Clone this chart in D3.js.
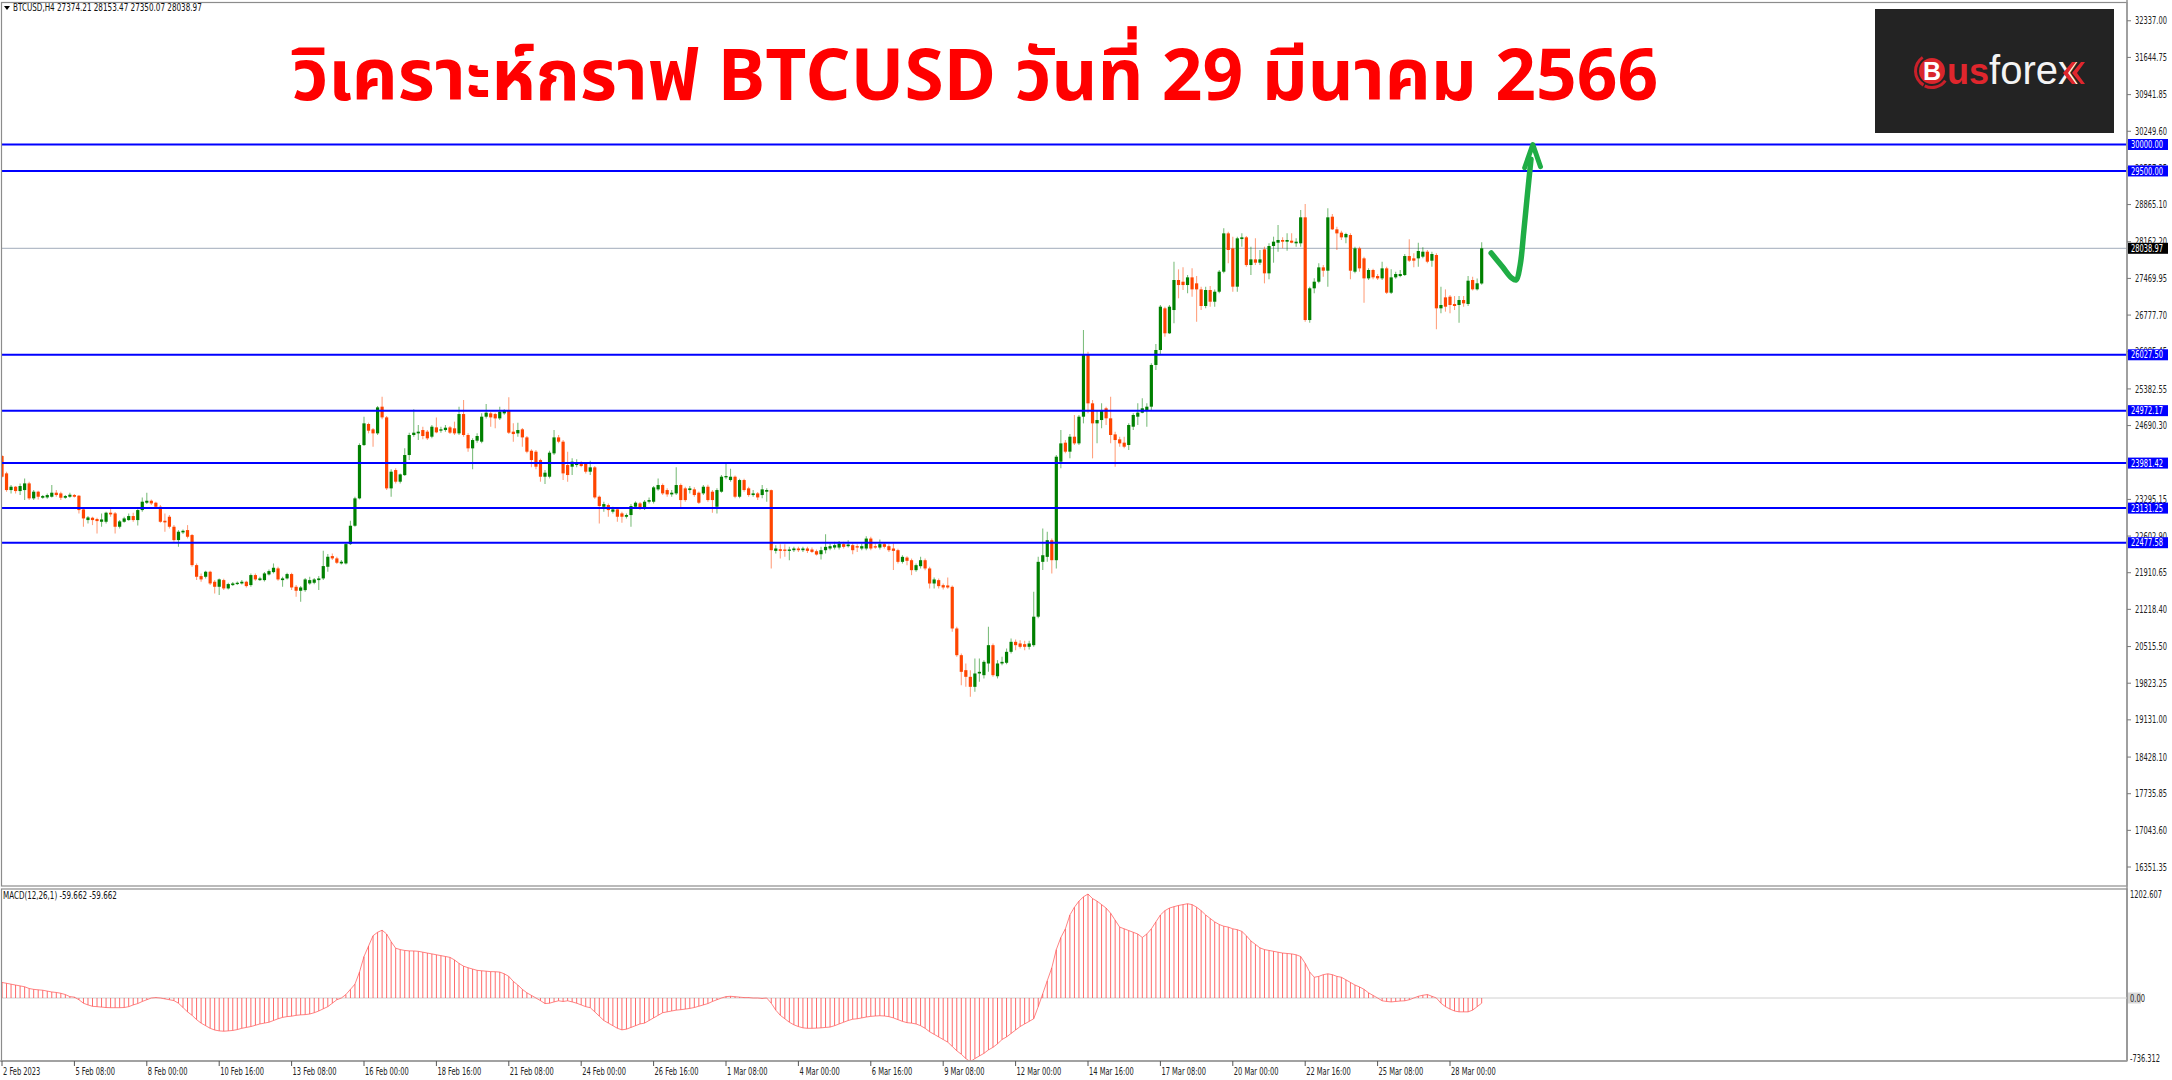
<!DOCTYPE html>
<html><head><meta charset="utf-8">
<script src="https://cdn.jsdelivr.net/npm/d3@7"></script>
<style>
html,body{margin:0;padding:0;background:#fff;overflow:hidden}
text{font-family:"DejaVu Sans Condensed","Liberation Sans",sans-serif}
</style>
</head><body>
<svg id="c" width="2172" height="1080"></svg>
<script>
// ---------- DATA ----------
const headerText = "BTCUSD,H4  27374.21 28153.47 27350.07 28038.97";
const titleText = "วิเคราะห์กราฟ BTCUSD วันที่ 29 มีนาคม 2566";
const macdLabel = "MACD(12,26,1) -59.662 -59.662";

const opens = [24115,23787,23472,23535,23453,23472,23598,23315,23441,23327,
23333,23346,23422,23409,23327,23346,23378,23365,23107,22905,
22949,22924,22873,22873,23044,23031,22779,22873,22905,22981,
22905,23094,23233,23270,23233,23157,22892,22968,22779,22527,
22672,22716,22622,22054,21847,21834,21929,21740,21645,21771,
21614,21677,21696,21708,21740,21677,21866,21771,21771,21878,
21922,21992,21771,21803,21885,21645,21570,21582,21708,21721,
21771,21803,22023,22225,22181,22086,22086,22451,22798,23315,
24322,24720,24619,24543,25047,24845,23504,23850,23630,23755,
24134,24512,24543,24606,24575,24480,24656,24594,24606,24656,
24638,24543,24908,24512,24260,24405,24386,24858,24921,24908,
24826,24921,24984,24575,24543,24619,24467,24215,24197,24039,
23724,23724,24165,24467,24386,23945,23913,23945,23989,23976,
23819,23901,23346,23157,23189,23063,23107,23031,22968,23000,
23157,23220,23126,23252,23252,23485,23567,23472,23390,23409,
23567,23504,23472,23485,23422,23409,23535,23441,23157,23441,
23712,23661,23724,23346,23661,23504,23378,23409,23378,23441,
23470,22323,22355,22349,22323,22336,22368,22336,22368,22349,
22317,22260,22336,22368,22386,22386,22450,22412,22431,22412,
22368,22368,22556,22412,22386,22450,22412,22368,22336,22116,
22197,22147,21959,22034,22147,21991,21707,21770,21676,21670,
21644,20857,20353,20070,19944,19755,20007,19975,20196,20542,
19955,20196,20209,20416,20605,20574,20561,20511,20542,21080,
22116,22210,22525,22147,24008,24367,24197,24480,24354,24858,
26023,25110,24732,24795,25016,24827,24524,24430,24367,24323,
24669,24858,24934,24984,25047,25835,26118,26905,26433,26873,
27440,27408,27345,27490,27377,27263,26949,27251,27030,27219,
27597,28321,28038,27314,28214,28246,27723,27830,27767,28019,
27566,28082,28145,28196,28164,28183,28133,28133,28624,26684,
27283,27408,27679,27616,28636,28397,28334,28246,28290,27597,
28038,27849,27471,27629,27515,27471,27660,27200,27490,27515,
27534,27893,27849,27849,27881,27975,27805,27912,26905,27112,
27125,26987,26968,27062,26987,27440,27264,27374.21];

const highs = [24133,23818,23566,23548,23598,23692,23630,23472,23459,23378,
23409,23566,23472,23441,23378,23422,23396,23378,23126,22981,
22968,22949,23031,23063,23145,23056,22905,22968,23031,23044,
23126,23333,23422,23296,23252,23189,23031,23000,22810,22716,
22729,22810,22640,22086,21897,21947,21947,21771,21803,21796,
21721,21733,21746,21771,21759,21897,21897,21834,21922,21973,
22086,22023,21834,21910,21910,21677,21658,21809,21834,21809,
21847,22326,22262,22275,22212,22149,22477,22893,23346,24354,
24858,24745,24644,25060,25236,24871,23863,23882,23787,24260,
24556,25000,24700,24669,24606,24700,24845,24669,24700,24682,
24764,25047,25173,24543,24449,24543,24921,25097,24946,24934,
25047,24997,25223,24732,24745,24644,24493,24241,24228,24064,
23850,24215,24606,24512,24417,24197,24071,24052,24014,24001,
24027,23926,23371,23252,23220,23157,23132,23063,23031,23207,
23258,23245,23283,23333,23548,23692,23598,23504,23472,23901,
23598,23535,23548,23523,23447,23566,23573,23472,23504,23756,
23964,23875,23749,23686,23686,23535,23472,23434,23567,23504,
23483,22431,22450,22450,22399,22399,22399,22399,22399,22386,
22349,22399,22638,22462,22494,22512,22494,22525,22475,22450,
22462,22600,22588,22462,22538,22475,22450,22462,22361,22241,
22223,22178,22084,22210,22178,22022,21821,21802,21707,21821,
21670,20888,20385,20196,20070,20291,20291,20259,20888,20574,
20259,20322,20479,20668,20649,20636,20624,20624,21553,22210,
22745,22683,22556,24134,24606,24417,24531,24890,24890,26496,
26086,25173,24984,25110,25047,25236,24575,24480,24480,24732,
24921,25110,25204,25110,25866,26231,26968,26936,26968,27786,
27641,27679,27534,27660,27515,27314,27314,27326,27263,27629,
28416,28353,28259,28259,28321,28271,28070,28227,28007,28070,
28133,28259,28479,28246,28321,28321,28227,28762,28875,27314,
27471,27755,27723,28794,28687,28448,28372,28334,28321,28070,
28070,27881,27660,27654,27553,27786,27692,27641,27597,27629,
27931,28208,27944,28145,28057,28007,27975,27944,27314,27263,
27157,27137,27137,27137,27515,27503,27470,28153.47];

const lows = [23711,23440,23409,23409,23378,23283,23283,23283,23296,23308,
23308,23333,23346,23283,23308,23327,23333,23031,22779,22842,
22810,22653,22779,22842,22968,22653,22748,22855,22892,22873,
22804,23063,23207,23189,23126,22855,22685,22748,22496,22401,
22640,22559,22023,21771,21740,21803,21677,21519,21488,21582,
21595,21658,21677,21689,21632,21645,21759,21752,21746,21859,
21897,21759,21645,21784,21582,21456,21362,21551,21683,21695,
21582,21771,21929,22149,22073,22067,22067,22432,22779,23296,
24304,24543,24291,24512,24808,23472,23346,23598,23598,23737,
24039,24480,24417,24430,24417,24449,24543,24556,24575,24530,
24512,24512,24480,24197,23863,24367,24354,24826,24669,24638,
24795,24896,24530,24386,24480,24291,24165,23901,23863,23630,
23586,23692,24134,24354,23661,23630,23756,23901,23901,23787,
23756,23308,22842,23063,22968,23031,22873,22855,22936,22779,
23126,23094,23094,23220,23220,23460,23378,23346,23346,23378,
23126,23252,23409,23346,23207,23378,23252,23044,23031,23422,
23674,23630,23315,23315,23441,23346,23346,23283,23315,23252,
21990,22273,22178,22210,22147,22304,22304,22304,22285,22285,
22235,22160,22273,22336,22349,22349,22368,22386,22260,22304,
22336,22336,22336,22361,22349,22368,22304,21961,22084,22084,
22053,21865,21928,21991,21959,21613,21613,21613,21594,21607,
20794,20322,19787,19755,19566,19661,19850,19913,20038,19944,
19913,20164,20183,20385,20448,20479,20448,20461,20511,21049,
21961,22116,21896,21991,23882,24165,24071,24323,24323,24732,
24921,24071,24354,24638,24701,24354,23913,24291,24260,24228,
24606,24701,24921,24669,24984,25740,26023,26370,26420,26621,
27094,27251,27188,27125,26653,26873,26905,26936,26936,27188,
27566,27755,27219,27219,28070,27692,27534,27723,27723,27377,
27452,27767,27975,28038,27994,28133,28070,28070,26653,26634,
27188,27377,27503,27314,28385,28007,28196,28133,27452,27566,
27597,27012,27440,27452,27440,27440,27175,27175,27465,27490,
27515,27780,27679,27692,27849,27755,27692,26508,26810,26842,
26810,26873,26634,26936,26949,27240,27240,27350.07];

const closes = [23724,23472,23535,23453,23548,23598,23315,23441,23346,23359,
23378,23422,23378,23327,23359,23384,23346,23094,22936,22955,
22905,22886,22917,23044,23012,22779,22880,22936,22981,22905,
23094,23252,23270,23220,23157,22873,22861,22779,22527,22685,
22703,22590,22054,21834,21784,21929,21708,21645,21784,21614,
21696,21708,21721,21740,21658,21866,21784,21803,21897,21941,
22004,21784,21803,21885,21632,21570,21632,21784,21771,21784,
21803,22036,22212,22181,22099,22118,22451,22798,23315,24322,
24732,24593,24543,25034,24845,23504,23819,23630,23768,24134,
24512,24556,24575,24493,24449,24669,24562,24619,24650,24556,
24543,24908,24512,24260,24417,24493,24858,24934,24845,24826,
24952,24971,24556,24530,24606,24467,24197,24039,23913,23724,
23800,24178,24467,24386,23787,23756,24008,23976,23926,23819,
23901,23333,23170,23207,23094,23107,22968,22968,23000,23170,
23233,23126,23252,23283,23523,23567,23409,23390,23422,23567,
23283,23283,23504,23378,23233,23535,23283,23283,23472,23724,
23737,23724,23346,23661,23472,23378,23409,23333,23485,23473,
22336,22368,22323,22323,22349,22368,22336,22368,22323,22304,
22254,22336,22399,22412,22431,22462,22399,22443,22336,22386,
22412,22556,22368,22386,22450,22399,22336,22323,22116,22210,
22135,21959,22053,22147,21991,21707,21783,21657,21632,21632,
20857,20353,20038,19944,19755,20007,20038,20227,20542,19975,
20196,20227,20416,20605,20542,20511,20511,20574,21080,22116,
22241,22525,22147,24102,24354,24197,24480,24354,24858,26023,
25110,24732,24795,24984,24827,24512,24417,24354,24291,24701,
24890,24934,25016,25047,25835,26118,26936,26433,26936,27440,
27345,27345,27490,27263,27263,26949,27251,27030,27219,27597,
28321,28007,27314,28227,28246,27723,27830,27767,27830,27566,
28082,28164,28196,28164,28196,28145,28164,28624,26684,27283,
27408,27679,27616,28624,28397,28321,28246,28309,27616,28038,
27660,27471,27629,27490,27471,27660,27200,27490,27553,27553,
27893,27805,27805,27988,27975,27786,27931,26905,26968,26936,
26968,26949,27062,26999,27427,27264,27378,28038.97];

const macd = [180,170,160,150,140,130,110,100,95,90,
80,70,64,55,40,16,10,-20,-60,-80,
-96,-100,-105,-110,-112,-112,-112,-110,-100,-80,
-64,-40,-20,0,5,0,-10,-20,-30,-60,
-110,-160,-200,-250,-290,-320,-350,-370,-380,-384,
-380,-375,-365,-350,-340,-330,-315,-300,-290,-280,
-260,-240,-224,-215,-210,-200,-195,-192,-185,-170,
-150,-125,-100,-60,-20,0,40,100,160,300,
480,600,720,760,784,740,650,576,560,550,
545,544,540,530,520,510,500,490,480,470,
440,400,368,350,335,320,315,310,305,304,
300,280,250,192,150,100,60,30,0,-30,
-64,-60,-45,-32,-40,-32,-45,-60,-80,-100,
-112,-160,-210,-260,-290,-320,-350,-368,-360,-340,
-320,-300,-290,-260,-230,-200,-170,-160,-150,-140,
-135,-128,-120,-110,-95,-80,-64,-40,-20,0,
16,20,15,10,5,5,0,0,-5,0,
-60,-140,-200,-240,-280,-310,-330,-345,-350,-350,
-348,-345,-340,-336,-320,-300,-280,-260,-245,-240,
-230,-220,-212,-208,-205,-208,-215,-230,-250,-270,
-285,-290,-300,-320,-350,-390,-420,-450,-480,-510,
-560,-610,-650,-700,-736.312,-700,-670,-640,-600,-570,
-530,-480,-450,-410,-370,-330,-300,-270,-240,-100,
50,200,350,560,700,800,960,1050,1120,1170,
1202.607,1150,1120,1080,1040,980,900,820,800,780,
760,740,700,740,800,880,960,1010,1040,1056,
1070,1080,1090,1080,1050,1010,960,920,880,850,
830,820,800,790,770,720,660,620,580,560,
550,540,530,520,515,510,500,480,400,300,
240,250,270,280,270,250,240,210,180,150,
128,100,60,30,0,-32,-40,-45,-40,-35,
-32,-20,0,20,32,40,20,0,-60,-100,
-128,-150,-160,-160,-160,-140,-100,-59.662];

const priceTickValues = [32337.00,31644.75,30941.85,30249.60,29557.35,28865.10,28162.20,27469.95,26777.70,26085.45,25382.55,24690.30,23295.15,22602.90,21910.65,21218.40,20515.50,19823.25,19131.00,18428.10,17735.85,17043.60,16351.35];
const timeLabelText = ["2 Feb 2023","5 Feb 08:00","8 Feb 00:00","10 Feb 16:00","13 Feb 08:00","16 Feb 00:00","18 Feb 16:00","21 Feb 08:00","24 Feb 00:00","26 Feb 16:00","1 Mar 08:00","4 Mar 00:00","6 Mar 16:00","9 Mar 08:00","12 Mar 00:00","14 Mar 16:00","17 Mar 08:00","20 Mar 00:00","22 Mar 16:00","25 Mar 08:00","28 Mar 00:00"];
const timeLabelBars = [0,16,32,48,64,80,96,112,128,144,160,176,192,208,224,240,256,272,288,304,320];
const levelPrices = [30000.00,29500.00,26027.50,24972.17,23981.42,23131.25,22477.58];
const lastPrice = 28038.97;
const macdAxisValues = [1202.607, 0.00, -736.312];
// hand-drawn projection arrow: [bar index, price]
const arrowBars   = [329.1, 331.6, 333.6, 334.6, 335.5, 336.3, 337.1, 337.9];
const arrowPrices = [27950, 27690, 27480, 27440, 27720, 28350, 29050, 29720];
const arrowTarget = 30000.00;

// ---------- LAYOUT ----------
const W = 2172, H = 1080;
const plotL = 2, plotR = 2127;
const mainT = 4, mainB = 886;
const macdT = 889, macdB = 1061;
const svg = d3.select('#c');

const x = d3.scaleLinear().domain([0, closes.length - 1]).range([2, 2 + 4.525 * (closes.length - 1)]);
const y = d3.scaleLinear().domain([15992.5, 32653.9]).range([mainB, mainT]);
const ym = d3.scaleLinear().domain([-736.312, 1202.607]).range([1061.7, 894]);

const GREEN = "#008000", RED = "#ff4500";

// narrow small-text factor: MT4 labels ("32337.00") are about 32px wide at this size
function measure(str) {
  const t = svg.append('text').attr('font-size', 10).text(str);
  const w = t.node().getComputedTextLength(); t.remove(); return w;
}
const kx = 32 / measure('32337.00');
const tf = (px, py, k = kx) => `translate(${px},${py}) scale(${k},1)`;

const defs = svg.append('defs');
defs.append('clipPath').attr('id', 'clipMain').append('rect')
  .attr('x', plotL).attr('y', mainT).attr('width', plotR - plotL).attr('height', mainB - mainT);
defs.append('clipPath').attr('id', 'clipMacd').append('rect')
  .attr('x', plotL).attr('y', macdT).attr('width', plotR - plotL).attr('height', macdB - macdT);

svg.insert('rect', ':first-child').attr('width', W).attr('height', H).attr('fill', '#fff');

// ---------- MAIN PANEL ----------
const gMain = svg.append('g').attr('clip-path', 'url(#clipMain)');

gMain.append('line').attr('x1', plotL).attr('x2', plotR)
  .attr('y1', y(lastPrice)).attr('y2', y(lastPrice))
  .attr('stroke', '#b4bcc8').attr('stroke-width', 1.2);

const idx = d3.range(closes.length);
gMain.append('g').selectAll('line').data(idx).join('line')
  .attr('x1', i => x(i)).attr('x2', i => x(i))
  .attr('y1', i => y(highs[i])).attr('y2', i => y(lows[i]))
  .attr('stroke', i => closes[i] >= opens[i] ? GREEN : RED)
  .attr('stroke-opacity', 0.5).attr('stroke-width', 1.1);
gMain.append('g').selectAll('rect').data(idx).join('rect')
  .attr('x', i => x(i) - 1.6).attr('width', 3.2)
  .attr('y', i => y(Math.max(opens[i], closes[i])))
  .attr('height', i => Math.max(1.2, Math.abs(y(opens[i]) - y(closes[i]))))
  .attr('fill', i => closes[i] >= opens[i] ? GREEN : RED);

gMain.append('g').selectAll('line').data(levelPrices).join('line')
  .attr('x1', plotL).attr('x2', plotR)
  .attr('y1', d => y(d)).attr('y2', d => y(d))
  .attr('stroke', '#0000ff').attr('stroke-width', 2);

// green hand-drawn arrow
const arrowPts = arrowBars.map((b, k) => [x(b), y(arrowPrices[k])]);
svg.append('path').attr('d', d3.line().curve(d3.curveCatmullRom)(arrowPts))
  .attr('fill', 'none').attr('stroke', '#1fad45').attr('stroke-width', 5.5)
  .attr('stroke-linecap', 'round').attr('stroke-linejoin', 'round');
{
  const tip = [x(338.3), y(arrowTarget)];
  const b1 = [x(336.5), y(29560)], b2 = [x(340.0), y(29580)];
  svg.append('path').attr('d', d3.line()([b1, tip, b2]))
    .attr('fill', 'none').attr('stroke', '#1fad45').attr('stroke-width', 5)
    .attr('stroke-linecap', 'round').attr('stroke-linejoin', 'round');
}

// frames
svg.append('rect').attr('x', 1.5).attr('y', 2.5).attr('width', plotR - 1.5).attr('height', mainB - 2.5)
  .attr('fill', 'none').attr('stroke', '#8c8c8c').attr('stroke-width', 1.2);
svg.append('line').attr('x1', plotR).attr('x2', plotR).attr('y1', 0).attr('y2', macdB)
  .attr('stroke', '#9a9a9a').attr('stroke-width', 1.6);

// header (about 189px wide in the reference)
svg.append('path').attr('d', 'M4,6 L10,6 L7,10 Z').attr('fill', '#000');
svg.append('text').attr('transform', tf(13, 11, 189 / measure(headerText))).attr('font-size', 10).attr('fill', '#111')
  .text(headerText);

// price axis labels
const gAx = svg.append('g');
gAx.selectAll('line').data(priceTickValues).join('line')
  .attr('x1', plotR).attr('x2', plotR + 4).attr('y1', d => y(d)).attr('y2', d => y(d))
  .attr('stroke', '#777');
gAx.selectAll('text').data(priceTickValues).join('text')
  .attr('transform', d => tf(2135, y(d) + 3.6))
  .attr('font-size', 10).attr('fill', '#222').text(d => d.toFixed(2));

// level boxes
const gLv = svg.append('g');
levelPrices.forEach(p => {
  gLv.append('rect').attr('x', plotR + 1).attr('y', y(p) - 5.5).attr('width', 40).attr('height', 11).attr('fill', '#0000ff');
  gLv.append('text').attr('transform', tf(plotR + 4, y(p) + 3.6)).attr('font-size', 10).attr('fill', '#fff').text(p.toFixed(2));
});
gLv.append('rect').attr('x', plotR + 1).attr('y', y(lastPrice) - 5.5).attr('width', 40).attr('height', 11).attr('fill', '#000');
gLv.append('text').attr('transform', tf(plotR + 4, y(lastPrice) + 3.6)).attr('font-size', 10).attr('fill', '#fff').text(lastPrice.toFixed(2));

// ---------- MACD PANEL ----------
svg.append('rect').attr('x', 1.5).attr('y', macdT).attr('width', plotR - 1.5).attr('height', macdB - macdT)
  .attr('fill', 'none').attr('stroke', '#8c8c8c').attr('stroke-width', 1.2);
const gM = svg.append('g').attr('clip-path', 'url(#clipMacd)');
gM.append('line').attr('x1', plotL).attr('x2', plotR).attr('y1', ym(0)).attr('y2', ym(0))
  .attr('stroke', '#d0d0d0').attr('stroke-width', 1);
gM.append('g').selectAll('line').data(idx).join('line')
  .attr('x1', i => x(i)).attr('x2', i => x(i))
  .attr('y1', ym(0)).attr('y2', i => ym(macd[i]))
  .attr('stroke', '#ff3b3b').attr('stroke-opacity', 0.75).attr('stroke-width', 1);
gM.append('path').attr('d', d3.line().x((d, i) => x(i)).y(d => ym(d))(macd))
  .attr('fill', 'none').attr('stroke', '#ff5050').attr('stroke-opacity', 0.7).attr('stroke-width', 1);
svg.append('text').attr('transform', tf(3, 899, 114 / measure(macdLabel))).attr('font-size', 10).attr('fill', '#111').text(macdLabel);

svg.append('rect').attr('x', plotR + 1).attr('y', ym(0) - 5.5).attr('width', 13).attr('height', 11).attr('fill', '#d8d8d8');
svg.append('g').selectAll('text').data(macdAxisValues).join('text')
  .attr('transform', d => tf(plotR + 3, Math.min(ym(d), 1058) + 3.6))
  .attr('font-size', 10).attr('fill', '#222')
  .text(d => d === 0 ? '0.00' : String(d));

// ---------- TIME AXIS ----------
svg.append('line').attr('x1', 0).attr('x2', plotR).attr('y1', macdB).attr('y2', macdB)
  .attr('stroke', '#9a9a9a').attr('stroke-width', 1.6);
const gT = svg.append('g');
gT.selectAll('line').data(timeLabelBars).join('line')
  .attr('x1', d => x(d)).attr('x2', d => x(d)).attr('y1', macdB).attr('y2', macdB + 5)
  .attr('stroke', '#555');
gT.selectAll('text').data(timeLabelBars).join('text')
  .attr('transform', d => tf(x(d) + 1, 1075)).attr('font-size', 10).attr('fill', '#222')
  .text((d, k) => timeLabelText[k]);

// ---------- TITLE ----------
const title = svg.append('text').attr('x', 975).attr('y', 100).attr('text-anchor', 'middle')
  .attr('font-size', 74).attr('font-weight', 700).attr('fill', '#ff0000')
  .style('font-family', '"Noto Sans Thai","Noto Sans Thai UI","Loma","Garuda","Tahoma","Noto Sans","DejaVu Sans",sans-serif')
  .text(titleText);
{
  const w = title.node().getComputedTextLength();
  if (w > 0) title.attr('font-size', 74 * 1367 / w);
}

// ---------- LOGO ----------
svg.append('rect').attr('x', 1875).attr('y', 9).attr('width', 239).attr('height', 124).attr('fill', '#232323');
svg.append('path').attr('d', d3.arc().innerRadius(15).outerRadius(18).startAngle(-2.6).endAngle(-0.6)())
  .attr('transform', 'translate(1932,71)').attr('fill', '#c8202a');
svg.append('path').attr('d', d3.arc().innerRadius(15).outerRadius(18).startAngle(2.2).endAngle(3.6)())
  .attr('transform', 'translate(1932,71)').attr('fill', '#c8202a');
svg.append('circle').attr('cx', 1932).attr('cy', 71).attr('r', 13).attr('fill', '#d9262c');
svg.append('text').attr('x', 1932).attr('y', 80).attr('text-anchor', 'middle')
  .attr('font-size', 25).attr('font-weight', 700).attr('fill', '#fff')
  .style('font-family', '"Liberation Sans",Arial,sans-serif').text('B');
const logo = svg.append('text').attr('x', 1947).attr('y', 84)
  .style('font-family', '"Liberation Sans",Arial,sans-serif');
logo.append('tspan').attr('font-size', 36).attr('font-weight', 700).attr('fill', '#e0262d').text('us');
logo.append('tspan').attr('font-size', 40).attr('fill', '#f4f4f4').text('forex');
svg.append('path').attr('d', 'M2072,62 L2063,73 L2072,84 L2076,84 L2068,73 L2076,62 Z M2081,62 L2072,73 L2081,84 L2085,84 L2077,73 L2085,62 Z')
  .attr('fill', '#e0262d');
</script>
</body></html>
